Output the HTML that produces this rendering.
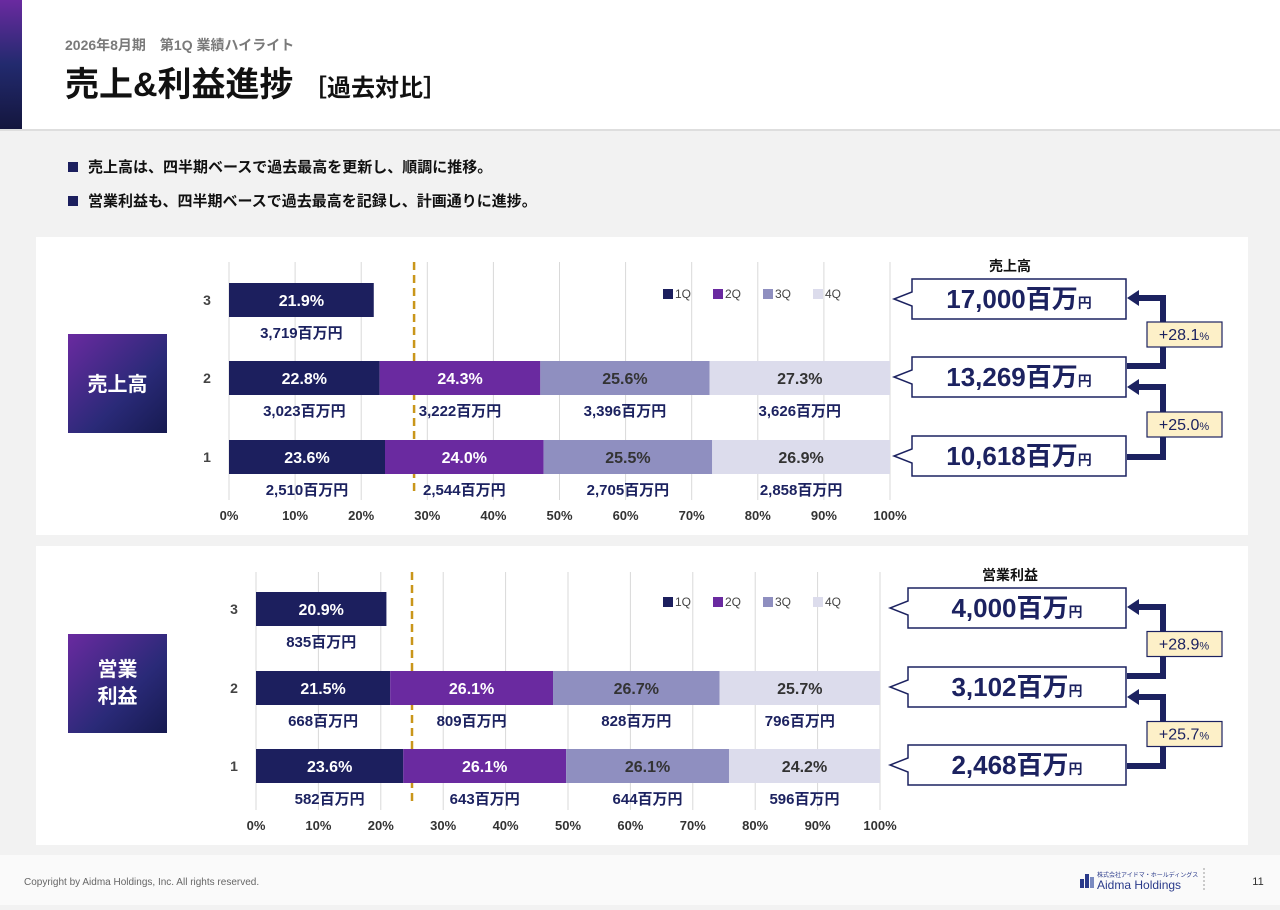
<!DOCTYPE html>
<html><head><meta charset="utf-8"><style>
body{margin:0;width:1280px;height:905px;overflow:hidden;background:#f2f2f2;font-family:"Liberation Sans","Noto Sans CJK JP",sans-serif}
svg text{font-family:"Liberation Sans","Noto Sans CJK JP",sans-serif}
</style></head><body>
<svg id="s" width="1280" height="905" viewBox="0 0 1280 905" xmlns="http://www.w3.org/2000/svg">
<defs>
<linearGradient id="gv" x1="0" y1="0" x2="0" y2="1"><stop offset="0" stop-color="#6a2aa0"/><stop offset="0.5" stop-color="#222a6e"/><stop offset="1" stop-color="#14163e"/></linearGradient>
<linearGradient id="gb" x1="0" y1="0" x2="1" y2="1"><stop offset="0" stop-color="#6a2aa0"/><stop offset="0.6" stop-color="#2a2a78"/><stop offset="1" stop-color="#161a50"/></linearGradient>
</defs>
<rect x="0" y="0" width="1280" height="129" fill="#fff"/>
<rect x="0" y="129" width="1280" height="2" fill="#dedede"/>
<rect x="0" y="855" width="1280" height="50" fill="#fafafa"/>
<rect x="0" y="0" width="22" height="129" fill="url(#gv)"/>
<text x="65" y="50" font-size="14" font-weight="bold" fill="#7a7a7a">2026年8月期　第1Q 業績ハイライト</text>
<text x="65" y="96" font-size="34" font-weight="bold" fill="#111">売上&amp;利益進捗 <tspan font-size="24" font-weight="bold">［過去対比］</tspan></text>
<rect x="68" y="162" width="10" height="10" fill="#1c1f5e"/>
<text x="88" y="172" font-size="15" font-weight="bold" fill="#111">売上高は、四半期ベースで過去最高を更新し、順調に推移。</text>
<rect x="68" y="196" width="10" height="10" fill="#1c1f5e"/>
<text x="88" y="206" font-size="15" font-weight="bold" fill="#111">営業利益も、四半期ベースで過去最高を記録し、計画通りに進捗。</text>
<rect x="36" y="237" width="1212" height="298" fill="#fff"/>
<rect x="36" y="546" width="1212" height="299" fill="#fff"/>
<rect x="68" y="334" width="99" height="99" fill="url(#gb)"/>
<text x="117.5" y="391" font-size="20" font-weight="bold" fill="#fff" text-anchor="middle">売上高</text>
<rect x="68" y="634" width="99" height="99" fill="url(#gb)"/>
<text x="117.5" y="676" font-size="20" font-weight="bold" fill="#fff" text-anchor="middle">営業</text>
<text x="117.5" y="703" font-size="20" font-weight="bold" fill="#fff" text-anchor="middle">利益</text>
<text x="24" y="885" font-size="10" fill="#666">Copyright by Aidma Holdings, Inc. All rights reserved.</text>
<g>
<rect x="1080" y="879" width="4" height="9" fill="#2a3a8a"/><rect x="1085" y="874" width="4" height="14" fill="#2a3a8a"/><rect x="1090" y="877" width="4" height="11" fill="#7a8ac0"/>
<text x="1097" y="877" font-size="6" fill="#2a3a8a">株式会社アイドマ・ホールディングス</text>
<text x="1097" y="889" font-size="12" font-family="Liberation Serif" fill="#2a3a8a">Aidma Holdings</text>
</g>
<line x1="1204" y1="868" x2="1204" y2="892" stroke="#999" stroke-dasharray="2,2"/>
<text x="1258" y="885" font-size="11" fill="#333" text-anchor="middle">11</text>
</svg>
<script>
const quarters=['1Q','2Q','3Q','4Q'];
const ticks=[0,10,20,30,40,50,60,70,80,90,100];
const rowLabels=['3','2','1'];
const sales1Q=[21.9,22.8,23.6];
const sales2Q=[null,24.3,24.0];
const sales3Q=[null,25.6,25.5];
const sales4Q=[null,27.3,26.9];
const salesAmt1Q=['3,719','3,023','2,510'];
const salesAmt2Q=[null,'3,222','2,544'];
const salesAmt3Q=[null,'3,396','2,705'];
const salesAmt4Q=[null,'3,626','2,858'];
const salesTotals=['17,000','13,269','10,618'];
const salesGrowth=['+28.1','+25.0'];
const salesTarget=28;
const profit1Q=[20.9,21.5,23.6];
const profit2Q=[null,26.1,26.1];
const profit3Q=[null,26.7,26.1];
const profit4Q=[null,25.7,24.2];
const profitAmt1Q=['835','668','582'];
const profitAmt2Q=[null,'809','643'];
const profitAmt3Q=[null,'828','644'];
const profitAmt4Q=[null,'796','596'];
const profitTotals=['4,000','3,102','2,468'];
const profitGrowth=['+28.9','+25.7'];
const profitTarget=25;

const NS='http://www.w3.org/2000/svg';
const svg=document.getElementById('s');
function mk(tag,attrs,parent){const e=document.createElementNS(NS,tag);for(const k in attrs)e.setAttribute(k,attrs[k]);(parent||svg).appendChild(e);return e;}
function txt(x,y,s,attrs,parent){const e=mk('text',Object.assign({x:x,y:y},attrs),parent);e.textContent=s;return e;}
const colors=['#1c1f5e','#6a2aa0','#8f8fc0','#dcdcec'];
const tcol=['#fff','#fff','#333','#333'];

function chart(name,cfg,series,amts,totals,growth,target,title){
  const g=mk('g',{});
  
  
  const xs=v=>cfg.x0+(cfg.x100-cfg.x0)*v/100;
  ticks.forEach(t=>{
    const l=mk('line',{x1:xs(t),x2:xs(t),y1:cfg.top,y2:cfg.bottom,stroke:'#d9d9d9','stroke-width':1},g);
    
    
    const tl=txt(xs(t),cfg.tickY,t+'%',{'font-size':13,'font-weight':'bold',fill:'#333','text-anchor':'middle'},g);
    
    
  });
  const dl=mk('line',{x1:xs(target),x2:xs(target),y1:cfg.top,y2:cfg.bottom-4,stroke:'#c9961a','stroke-width':2.5,'stroke-dasharray':'8,5'},g);
  
  
  rowLabels.forEach((r,i)=>{
    const cy=cfg.rows[i];
    const rl=txt(cfg.x0-22,cy+5,r,{'font-size':14,'font-weight':'bold',fill:'#444','text-anchor':'middle'},g);
    
    
    let acc=0;
    series.forEach((s,q)=>{
      const v=s[i]; if(v==null)return;
      const b=mk('rect',{x:xs(acc),y:cy-17,width:xs(acc+v)-xs(acc),height:34,fill:colors[q]},g);
      
      
      const mid=(xs(acc)+xs(acc+v))/2;
      const bl=txt(mid,cy+6,v.toFixed(1)+'%',{'font-size':16,'font-weight':'bold',fill:tcol[q],'text-anchor':'middle'},g);
      
      
      const al=txt(mid,cy+38,amts[q][i]+'百万円',{'font-size':15,'font-weight':'bold',fill:'#1c2260','text-anchor':'middle'},g);
      
      
      acc+=v;
    });
  });
  quarters.forEach((q,k)=>{
    const lx=663+k*50;
    const sq=mk('rect',{x:lx,y:cfg.legY-9,width:10,height:10,fill:colors[k]},g);
    
    
    const lt=txt(lx+12,cfg.legY,q,{'font-size':12,fill:'#444'},g);
    
    
  });
  const tt=txt(1010,cfg.rows[0]-29,title,{'font-size':14,'font-weight':'bold',fill:'#111','text-anchor':'middle'},g);
  
  
  const bx1=cfg.bx1,bx2=1126;
  totals.forEach((t,i)=>{
    const cy=cfg.rows[i]-1,y1=cy-20,y2=cy+20;
    const p=mk('polygon',{points:`${bx1},${y1} ${bx2},${y1} ${bx2},${y2} ${bx1},${y2} ${bx1},${cy+7} ${bx1-18},${cy} ${bx1},${cy-7}`,fill:'#fff',stroke:'#1c2260','stroke-width':1.5},g);
    
    
    const tx=txt((bx1+bx2)/2,cy+9,'',{'font-size':26,'font-weight':'bold',fill:'#1c2260','text-anchor':'middle'},g);
    
    
    const a=mk('tspan',{},tx);a.textContent=t+'百万';
    const b=mk('tspan',{'font-size':14},tx);b.textContent='円';
  });
  growth.forEach((gr,i)=>{
    const yTop=i===0?cfg.rows[i]-2:cfg.rows[i]+9;
    const yBot=cfg.rows[i+1]+(i===0?-12:0);
    const path=mk('path',{d:`M1127,${yBot} H1163 V${yTop} H1138`,fill:'none',stroke:'#1c2260','stroke-width':6},g);
    
    
    const ah=mk('polygon',{points:`1127,${yTop} 1139,${yTop-8} 1139,${yTop+8}`,fill:'#1c2260'},g);
    
    
    const my=(yTop+yBot)/2+2;
    const br=mk('rect',{x:1147,y:my-12,width:75,height:25,fill:'#fdf0c8',stroke:'#1c2260','stroke-width':1.2},g);
    
    
    const bt=txt(1184,my+6,'',{'font-size':16,fill:'#1c2260','text-anchor':'middle'},g);
    
    
    const a=mk('tspan',{},bt);a.textContent=gr;
    const b=mk('tspan',{'font-size':11},bt);b.textContent='%';
  });
}
chart('sales',{x0:229,x100:890,top:262,bottom:500,tickY:520,rows:[300,378,457],legY:298,bx1:912},
  [sales1Q,sales2Q,sales3Q,sales4Q],[salesAmt1Q,salesAmt2Q,salesAmt3Q,salesAmt4Q],salesTotals,salesGrowth,salesTarget,'売上高');
chart('profit',{x0:256,x100:880,top:572,bottom:810,tickY:830,rows:[609,688,766],legY:606,bx1:908},
  [profit1Q,profit2Q,profit3Q,profit4Q],[profitAmt1Q,profitAmt2Q,profitAmt3Q,profitAmt4Q],profitTotals,profitGrowth,profitTarget,'営業利益');
</script>
</body></html>
